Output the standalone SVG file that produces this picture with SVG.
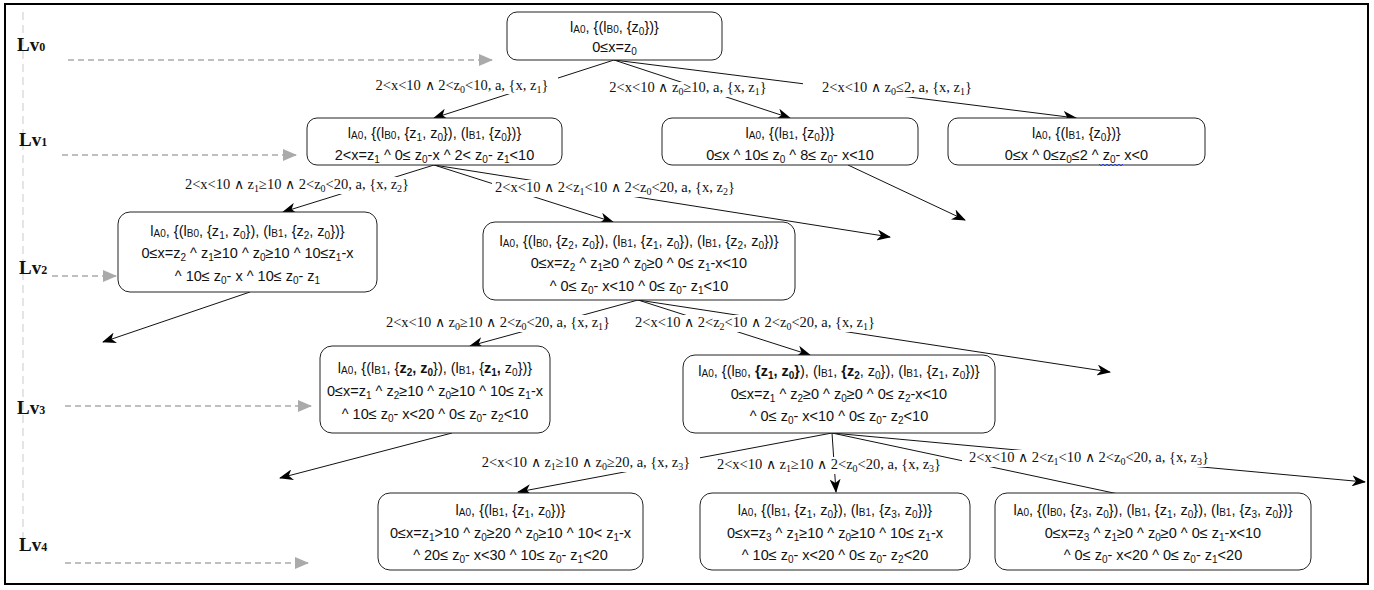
<svg xmlns="http://www.w3.org/2000/svg" width="1374" height="590" viewBox="0 0 1374 590">
<style>
.nt{font-family:"Liberation Sans",Arial,sans-serif;font-size:14.5px;fill:#111;text-anchor:middle}
.el{font-family:"Liberation Serif","Times New Roman",serif;font-size:14.5px;fill:#111;text-anchor:middle}
.lv{font-family:"Liberation Serif","Times New Roman",serif;font-size:19px;font-weight:bold;fill:#111}
.s{font-size:10px;baseline-shift:-3px}
.i{font-size:10px;baseline-shift:-1px}
.d{font-size:12px}
.b{font-weight:bold}
.w{font-family:"DejaVu Sans",sans-serif;font-weight:200;font-size:13.5px}
.box{fill:#fff;stroke:#222;stroke-width:1}
.ed{stroke:#111;stroke-width:1;fill:none;marker-end:url(#ah)}
.gd{stroke:#aaa;stroke-width:1.5;stroke-dasharray:6 4;fill:none;marker-end:url(#ag)}
.bg{fill:#fff}
</style>
<defs>
<marker id="ah" viewBox="0 0 14 11" refX="13" refY="5.5" markerWidth="14" markerHeight="11" markerUnits="userSpaceOnUse" orient="auto"><path d="M0,0 L14,5.5 L0,11 L4,5.5 Z" fill="#000"/></marker>
<marker id="ag" viewBox="0 0 14 12" refX="13" refY="6" markerWidth="14" markerHeight="12" markerUnits="userSpaceOnUse" orient="auto"><path d="M0,0 L14,6 L0,12 Z" fill="#aaa"/></marker>
</defs>
<rect x="0" y="0" width="1374" height="590" fill="#fff"/>
<rect x="5" y="4" width="1363" height="580" fill="none" stroke="#000" stroke-width="2"/>

<g id="levels">
<line x1="23" y1="12" x2="23" y2="548" stroke="#ddd" stroke-width="1.5" stroke-dasharray="8 5"/>
<text class="lv" x="17" y="51">Lv<tspan class="d">0</tspan></text>
<text class="lv" x="19" y="146">Lv<tspan class="d">1</tspan></text>
<text class="lv" x="19" y="274">Lv<tspan class="d">2</tspan></text>
<text class="lv" x="17" y="414">Lv<tspan class="d">3</tspan></text>
<text class="lv" x="19" y="551">Lv<tspan class="d">4</tspan></text>
<line class="gd" x1="68" y1="60" x2="492" y2="60"/>
<line class="gd" x1="62" y1="155" x2="296" y2="155"/>
<line class="gd" x1="52" y1="276" x2="116" y2="276"/>
<line class="gd" x1="65" y1="406" x2="311" y2="406"/>
<line class="gd" x1="65" y1="563" x2="308" y2="563"/>
</g>

<g id="connectors">
<line class="ed" x1="614" y1="60" x2="434" y2="118"/>
<line class="ed" x1="614" y1="60" x2="790" y2="118"/>
<line class="ed" x1="614" y1="60" x2="1076" y2="118"/>
<line class="ed" x1="434" y1="165" x2="283" y2="212"/>
<line class="ed" x1="434" y1="165" x2="613" y2="222"/>
<line class="ed" x1="434" y1="165" x2="890" y2="237"/>
<line class="ed" x1="848" y1="165" x2="965" y2="220"/>
<line class="ed" x1="250" y1="292" x2="103" y2="342"/>
<line class="ed" x1="638" y1="300" x2="470" y2="346"/>
<line class="ed" x1="638" y1="300" x2="810" y2="355"/>
<line class="ed" x1="638" y1="300" x2="1110" y2="372"/>
<line class="ed" x1="452" y1="433" x2="280" y2="478"/>
<line class="ed" x1="832" y1="433" x2="518" y2="492"/>
<line class="ed" x1="832" y1="433" x2="836" y2="492"/>
<line class="ed" x1="832" y1="433" x2="1170" y2="505"/>
<line class="ed" x1="832" y1="433" x2="1365" y2="482"/>

<rect class="bg" x="365" y="77" width="193" height="17"/>
<text class="el" x="462" y="90">2&lt;x&lt;10 <tspan class="w">∧</tspan> 2&lt;z<tspan class="s">0</tspan>&lt;10, a, {x, z<tspan class="s">1</tspan>}</text>
<rect class="bg" x="592" y="82" width="190" height="15"/>
<text class="el" x="688" y="92">2&lt;x&lt;10 <tspan class="w">∧</tspan> z<tspan class="s">0</tspan>≥10, a, {x, z<tspan class="s">1</tspan>}</text>
<rect class="bg" x="803" y="80" width="189" height="17"/>
<text class="el" x="897" y="92">2&lt;x&lt;10 <tspan class="w">∧</tspan> z<tspan class="s">0</tspan>≤2, a, {x, z<tspan class="s">1</tspan>}</text>
<rect class="bg" x="182" y="177" width="230" height="17"/>
<text class="el" x="297" y="189">2&lt;x&lt;10 <tspan class="w">∧</tspan> z<tspan class="s">1</tspan>≥10 <tspan class="w">∧</tspan> 2&lt;z<tspan class="s">0</tspan>&lt;20, a, {x, z<tspan class="s">2</tspan>}</text>
<rect class="bg" x="492" y="180" width="246" height="17"/>
<text class="el" x="615" y="192">2&lt;x&lt;10 <tspan class="w">∧</tspan> 2&lt;z<tspan class="s">1</tspan>&lt;10 <tspan class="w">∧</tspan> 2&lt;z<tspan class="s">0</tspan>&lt;20, a, {x, z<tspan class="s">2</tspan>}</text>
<rect class="bg" x="383" y="315" width="230" height="17"/>
<text class="el" x="498" y="327">2&lt;x&lt;10 <tspan class="w">∧</tspan> z<tspan class="s">0</tspan>≥10 <tspan class="w">∧</tspan> 2&lt;z<tspan class="s">0</tspan>&lt;20, a, {x, z<tspan class="s">1</tspan>}</text>
<rect class="bg" x="631" y="315" width="247" height="17"/>
<text class="el" x="755" y="327">2&lt;x&lt;10 <tspan class="w">∧</tspan> 2&lt;z<tspan class="s">2</tspan>&lt;10 <tspan class="w">∧</tspan> 2&lt;z<tspan class="s">0</tspan>&lt;20, a, {x, z<tspan class="s">1</tspan>}</text>
<rect class="bg" x="472" y="455" width="228" height="17"/>
<text class="el" x="586" y="467">2&lt;x&lt;10 <tspan class="w">∧</tspan> z<tspan class="s">1</tspan>≥10 <tspan class="w">∧</tspan> z<tspan class="s">0</tspan>≥20, a, {x, z<tspan class="s">3</tspan>}</text>
<rect class="bg" x="714" y="457" width="229" height="17"/>
<text class="el" x="829" y="469">2&lt;x&lt;10 <tspan class="w">∧</tspan> z<tspan class="s">1</tspan>≥10 <tspan class="w">∧</tspan> 2&lt;z<tspan class="s">0</tspan>&lt;20, a, {x, z<tspan class="s">3</tspan>}</text>
<rect class="bg" x="962" y="450" width="254" height="17"/>
<text class="el" x="1089" y="462">2&lt;x&lt;10 <tspan class="w">∧</tspan> 2&lt;z<tspan class="s">1</tspan>&lt;10 <tspan class="w">∧</tspan> 2&lt;z<tspan class="s">0</tspan>&lt;20, a, {x, z<tspan class="s">3</tspan>}</text>
</g>

<g id="n0">
<rect class="box" x="507" y="12" width="215" height="48" rx="10"/>
<text class="nt" x="614.5" y="32">l<tspan class="i">A0</tspan>, {(l<tspan class="i">B0</tspan>, {z<tspan class="s">0</tspan>})}</text>
<text class="nt" x="614.5" y="52">0≤x=z<tspan class="s">0</tspan></text>
</g>

<g id="n1a">
<rect class="box" x="307" y="118" width="255" height="47" rx="10"/>
<text class="nt" x="434.5" y="138">l<tspan class="i">A0</tspan>, {(l<tspan class="i">B0</tspan>, {z<tspan class="s">1</tspan>, z<tspan class="s">0</tspan>}), (l<tspan class="i">B1</tspan>, {z<tspan class="s">0</tspan>})}</text>
<text class="nt" x="434.5" y="160">2&lt;x=z<tspan class="s">1</tspan> ^ 0≤ z<tspan class="s">0</tspan>-x ^ 2&lt; z<tspan class="s">0</tspan>- z<tspan class="s">1</tspan>&lt;10</text>
</g>

<g id="n1b">
<rect class="box" x="662" y="118" width="256" height="47" rx="10"/>
<text class="nt" x="790" y="138">l<tspan class="i">A0</tspan>, {(l<tspan class="i">B1</tspan>, {z<tspan class="s">0</tspan>})}</text>
<text class="nt" x="790" y="160">0≤x ^ 10≤ z<tspan class="s">0</tspan> ^ 8≤ z<tspan class="s">0</tspan>- x&lt;10</text>
</g>

<g id="n1c">
<rect class="box" x="948" y="118" width="257" height="47" rx="10"/>
<text class="nt" x="1076.5" y="138">l<tspan class="i">A0</tspan>, {(l<tspan class="i">B1</tspan>, {z<tspan class="s">0</tspan>})}</text>
<text class="nt" x="1076.5" y="160">0≤x ^ 0≤z<tspan class="s">0</tspan>≤2 ^ z<tspan class="s">0</tspan>- x&lt;0</text>
<path d="M1099,164 l2,2 l2,-2 l2,2 l2,-2 l2,2 l2,-2 l2,2 l2,-2 l2,2 l2,-2 l2,2 l2,-2" fill="none" stroke="#2244dd" stroke-width="1"/>
</g>

<g id="n2a">
<rect class="box" x="118" y="212" width="259" height="80" rx="12"/>
<text class="nt" x="247.5" y="236">l<tspan class="i">A0</tspan>, {(l<tspan class="i">B0</tspan>, {z<tspan class="s">1</tspan>, z<tspan class="s">0</tspan>}), (l<tspan class="i">B1</tspan>, {z<tspan class="s">2</tspan>, z<tspan class="s">0</tspan>})}</text>
<text class="nt" x="247.5" y="258">0≤x=z<tspan class="s">2</tspan> ^ z<tspan class="s">1</tspan>≥10 ^ z<tspan class="s">0</tspan>≥10 ^ 10≤z<tspan class="s">1</tspan>-x</text>
<text class="nt" x="247.5" y="281">^ 10≤ z<tspan class="s">0</tspan>- x ^ 10≤ z<tspan class="s">0</tspan>- z<tspan class="s">1</tspan></text>
</g>

<g id="n2b">
<rect class="box" x="483" y="222" width="312" height="78" rx="12"/>
<text class="nt" x="639" y="246">l<tspan class="i">A0</tspan>, {(l<tspan class="i">B0</tspan>, {z<tspan class="s">2</tspan>, z<tspan class="s">0</tspan>}), (l<tspan class="i">B1</tspan>, {z<tspan class="s">1</tspan>, z<tspan class="s">0</tspan>}), (l<tspan class="i">B1</tspan>, {z<tspan class="s">2</tspan>, z<tspan class="s">0</tspan>})}</text>
<text class="nt" x="639" y="268">0≤x=z<tspan class="s">2</tspan> ^ z<tspan class="s">1</tspan>≥0 ^ z<tspan class="s">0</tspan>≥0 ^ 0≤ z<tspan class="s">1</tspan>-x&lt;10</text>
<text class="nt" x="639" y="291">^ 0≤ z<tspan class="s">0</tspan>- x&lt;10 ^ 0≤ z<tspan class="s">0</tspan>- z<tspan class="s">1</tspan>&lt;10</text>
</g>

<g id="n3a">
<rect class="box" x="320" y="346" width="230" height="87" rx="12"/>
<text class="nt" x="435" y="373">l<tspan class="i">A0</tspan>, {(l<tspan class="i">B1</tspan>, {<tspan class="b">z<tspan class="s">2</tspan>, z<tspan class="s">0</tspan></tspan>}), (l<tspan class="i">B1</tspan>, {<tspan class="b">z<tspan class="s">1</tspan>,</tspan> z<tspan class="s">0</tspan>})}</text>
<text class="nt" x="435" y="396">0≤x=z<tspan class="s">1</tspan> ^ z<tspan class="s">2</tspan>≥10 ^ z<tspan class="s">0</tspan>≥10 ^ 10≤ z<tspan class="s">1</tspan>-x</text>
<text class="nt" x="435" y="419">^ 10≤ z<tspan class="s">0</tspan>- x&lt;20 ^ 0≤ z<tspan class="s">0</tspan>- z<tspan class="s">2</tspan>&lt;10</text>
</g>

<g id="n3b">
<rect class="box" x="683" y="355" width="312" height="78" rx="12"/>
<text class="nt" x="839" y="376">l<tspan class="i">A0</tspan>, {(l<tspan class="i">B0</tspan>, <tspan class="b">{z<tspan class="s">1</tspan>, z<tspan class="s">0</tspan>}</tspan>), (l<tspan class="i">B1</tspan>, <tspan class="b">{z<tspan class="s">2</tspan></tspan>, z<tspan class="s">0</tspan>}), (l<tspan class="i">B1</tspan>, {z<tspan class="s">1</tspan>, z<tspan class="s">0</tspan>})}</text>
<text class="nt" x="839" y="399">0≤x=z<tspan class="s">1</tspan> ^ z<tspan class="s">2</tspan>≥0 ^ z<tspan class="s">0</tspan>≥0 ^ 0≤ z<tspan class="s">2</tspan>-x&lt;10</text>
<text class="nt" x="839" y="421">^ 0≤ z<tspan class="s">0</tspan>- x&lt;10 ^ 0≤ z<tspan class="s">0</tspan>- z<tspan class="s">2</tspan>&lt;10</text>
</g>

<g id="n4a">
<rect class="box" x="378" y="493" width="265" height="77" rx="12"/>
<text class="nt" x="510.5" y="515">l<tspan class="i">A0</tspan>, {(l<tspan class="i">B1</tspan>, {z<tspan class="s">1</tspan>, z<tspan class="s">0</tspan>})}</text>
<text class="nt" x="510.5" y="538">0≤x=z<tspan class="s">1</tspan>&gt;10 ^ z<tspan class="s">0</tspan>≥20 ^ z<tspan class="s">0</tspan>≥10 ^ 10&lt; z<tspan class="s">1</tspan>-x</text>
<text class="nt" x="510.5" y="560">^ 20≤ z<tspan class="s">0</tspan>- x&lt;30 ^ 10≤ z<tspan class="s">0</tspan>- z<tspan class="s">1</tspan>&lt;20</text>
</g>

<g id="n4b">
<rect class="box" x="700" y="493" width="270" height="77" rx="12"/>
<text class="nt" x="835" y="515">l<tspan class="i">A0</tspan>, {(l<tspan class="i">B1</tspan>, {z<tspan class="s">1</tspan>, z<tspan class="s">0</tspan>}), (l<tspan class="i">B1</tspan>, {z<tspan class="s">3</tspan>, z<tspan class="s">0</tspan>})}</text>
<text class="nt" x="835" y="538">0≤x=z<tspan class="s">3</tspan> ^ z<tspan class="s">1</tspan>≥10 ^ z<tspan class="s">0</tspan>≥10 ^ 10≤ z<tspan class="s">1</tspan>-x</text>
<text class="nt" x="835" y="560">^ 10≤ z<tspan class="s">0</tspan>- x&lt;20 ^ 0≤ z<tspan class="s">0</tspan>- z<tspan class="s">2</tspan>&lt;20</text>
</g>

<g id="n4c">
<rect class="box" x="995" y="493" width="316" height="77" rx="12"/>
<text class="nt" x="1153" y="515">l<tspan class="i">A0</tspan>, {(l<tspan class="i">B0</tspan>, {z<tspan class="s">3</tspan>, z<tspan class="s">0</tspan>}), (l<tspan class="i">B1</tspan>, {z<tspan class="s">1</tspan>, z<tspan class="s">0</tspan>}), (l<tspan class="i">B1</tspan>, {z<tspan class="s">3</tspan>, z<tspan class="s">0</tspan>})}</text>
<text class="nt" x="1153" y="538">0≤x=z<tspan class="s">3</tspan> ^ z<tspan class="s">1</tspan>≥0 ^ z<tspan class="s">0</tspan>≥0 ^ 0≤ z<tspan class="s">1</tspan>-x&lt;10</text>
<text class="nt" x="1153" y="560">^ 0≤ z<tspan class="s">0</tspan>- x&lt;20 ^ 0≤ z<tspan class="s">0</tspan>- z<tspan class="s">1</tspan>&lt;20</text>
</g>
</svg>
